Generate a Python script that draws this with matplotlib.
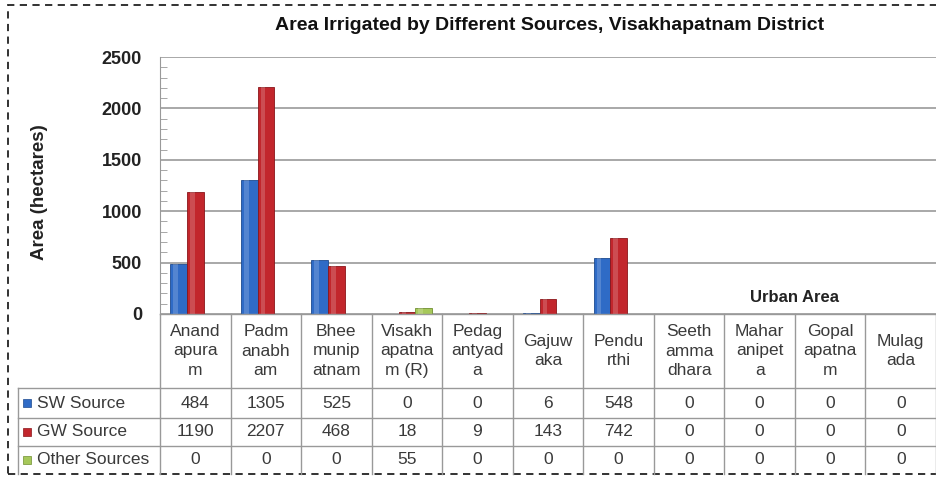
import matplotlib
matplotlib.use("Agg")
import matplotlib.pyplot as plt
from matplotlib.patches import Rectangle
from matplotlib.lines import Line2D
import numpy as np

plt.rcParams['font.family'] = ['Liberation Sans', 'DejaVu Sans']

categories = ["Anand\napura\nm", "Padm\nanabh\nam", "Bhee\nmunip\natnam", "Visakh\napatna\nm (R)",
              "Pedag\nantyad\na", "Gajuw\naka", "Pendu\nrthi", "Seeth\namma\ndhara",
              "Mahar\nanipet\na", "Gopal\napatna\nm", "Mulag\nada"]
sw_source = [484, 1305, 525, 0, 0, 6, 548, 0, 0, 0, 0]
gw_source = [1190, 2207, 468, 18, 9, 143, 742, 0, 0, 0, 0]
other_sources = [0, 0, 0, 55, 0, 0, 0, 0, 0, 0, 0]
series_names = ["SW Source", "GW Source", "Other Sources"]
yticks = [0, 500, 1000, 1500, 2000, 2500]

W, H = 936, 478
fig = plt.figure(figsize=(W / 100, H / 100), dpi=100)

def fx(px):
    return px / W

def fy(py):
    return 1 - py / H

ax_left, ax_right, ax_top, ax_bot = 160, 936, 57, 314
ax = fig.add_axes([fx(ax_left), fy(ax_bot), fx(ax_right - ax_left), (ax_bot - ax_top) / H])

colors = ["#2f6bc6", "#c2262c", "#a6c85a"]
edges = ["#1d4a8f", "#8a1519", "#6f8f30"]
x = np.arange(len(categories))
bw = 0.235
for k, (vals, off) in enumerate(zip([sw_source, gw_source, other_sources], [-bw, 0, bw])):
    ax.bar(x + off, vals, width=bw, color=colors[k], edgecolor=edges[k], linewidth=0.6, zorder=3)
    # highlight stripe for a cylinder-like look
    ax.bar(x + off - bw * 0.18, vals, width=bw * 0.28, color="white", alpha=0.18, linewidth=0, zorder=4)

ax.set_xlim(-0.5, len(categories) - 0.5)
ax.set_ylim(0, 2500)
ax.set_yticks(yticks)
ax.set_yticklabels([str(t) for t in yticks], fontsize=13, fontweight="bold", color="#222222")
ax.set_yticks(np.arange(0, 2501, 100), minor=True)
ax.tick_params(axis="y", which="major", length=0, pad=13)
ax.tick_params(axis="y", which="minor", direction="in", length=5, color="#999999")
ax.set_xticks([])
ax.grid(axis="y", color="#999999", linewidth=1.2, zorder=0)
for s in ["top", "right", "bottom"]:
    ax.spines[s].set_visible(False)
ax.spines["left"].set_color("#999999")

fig.text(fx(40), fy(192), "Area (hectares)", rotation=90, ha="center", va="center",
         fontsize=13.5, fontweight="bold", color="#222222")

ax.text(8.5, 165, "Urban Area", ha="center", va="center", fontsize=12, fontweight="bold", color="#222222")

fig.text(fx(550), fy(25), "Area Irrigated by Different Sources, Visakhapatnam District",
         ha="center", va="center", fontsize=14, fontweight="bold", color="#111111")

# Data table
line_col = "#999999"
col_w = (ax_right - ax_left) / len(categories)
hdr_top = 314
row_edges = [388, 418, 446, 474]
lab_left = 18

def hline(y, x0, x1):
    fig.add_artist(Line2D([fx(x0), fx(x1)], [fy(y), fy(y)], color=line_col, linewidth=1))

def vline(xp, y0, y1):
    fig.add_artist(Line2D([fx(xp), fx(xp)], [fy(y0), fy(y1)], color=line_col, linewidth=1))

hline(hdr_top, ax_left, ax_right)
for y in row_edges[:-1]:
    hline(y, lab_left, ax_right)
vline(lab_left, row_edges[0], row_edges[-1])
for i in range(len(categories) + 1):
    vline(ax_left + i * col_w, hdr_top, row_edges[-1])

txt_col = "#3a3a3a"
fs = 12.5
for i, c in enumerate(categories):
    cx = ax_left + (i + 0.5) * col_w
    fig.text(fx(cx), fy(351), c, ha="center", va="center", fontsize=fs, color=txt_col,
             linespacing=1.35, multialignment="center")

for r, (name, vals) in enumerate(zip(series_names, [sw_source, gw_source, other_sources])):
    cy = (row_edges[r] + row_edges[r + 1]) / 2
    fig.add_artist(Rectangle((fx(23), fy(cy + 4)), fx(8), 8 / H, facecolor=colors[r],
                             edgecolor=edges[r], linewidth=0.5))
    fig.text(fx(37), fy(cy), name, ha="left", va="center", fontsize=fs, color=txt_col)
    for i, v in enumerate(vals):
        cx = ax_left + (i + 0.5) * col_w
        fig.text(fx(cx), fy(cy), str(v), ha="center", va="center", fontsize=fs, color=txt_col)

# dashed border
fig.add_artist(Rectangle((fx(8), fy(474)), fx(W + 20), (474 - 5) / H, fill=False,
                         edgecolor="#222222", linestyle=(0, (4, 3)), linewidth=1.3))

fig.savefig("out.png", dpi=100, facecolor="white")
